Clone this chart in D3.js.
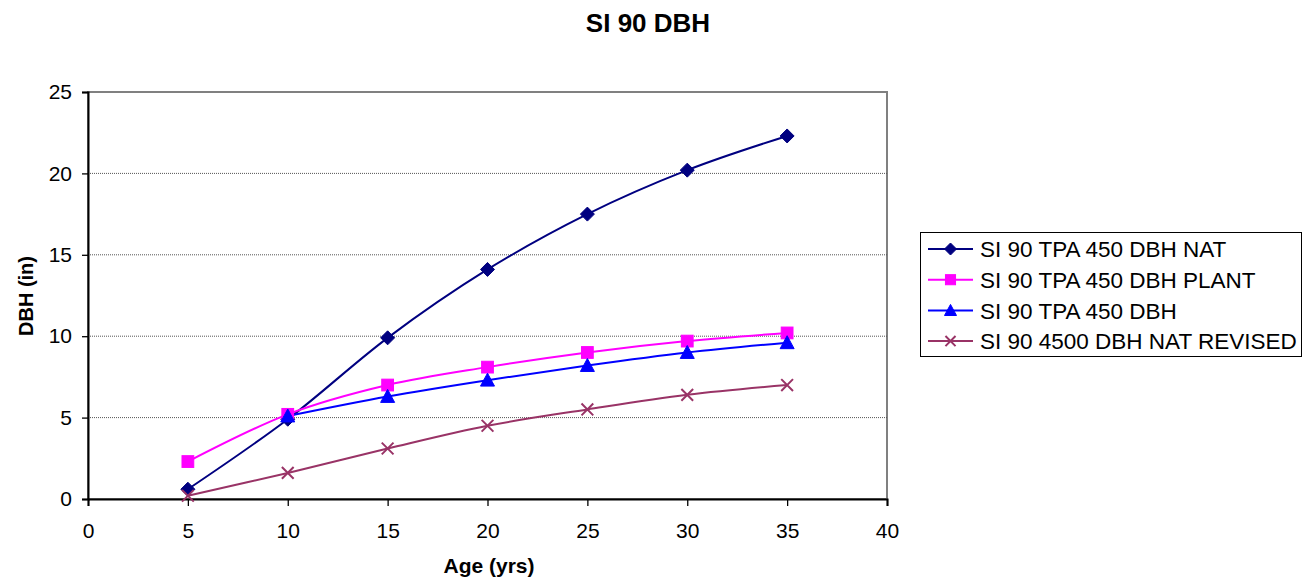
<!DOCTYPE html>
<html>
<head>
<meta charset="utf-8">
<script src="https://cdn.jsdelivr.net/npm/d3@7"></script>
<style>
  html, body { margin: 0; padding: 0; background: #fff; }
  svg { display: block; font-family: "Liberation Sans", Arial, sans-serif; }
</style>
</head>
<body>
<svg id="chart" width="1314" height="586"></svg>
<script>
// Ages (years) and DBH (inches) per series
const ages = [5, 10, 15, 20, 25, 30, 35];
const natValues     = [0.6, 4.9, 9.9, 14.1, 17.5, 20.2, 22.3];
const plantValues   = [2.3, 5.2, 7.0, 8.1, 9.0, 9.7, 10.2];
const dbhValues     = [null, 5.1, 6.3, 7.3, 8.2, 9.0, 9.6];
const revisedValues = [0.2, 1.6, 3.1, 4.5, 5.5, 6.4, 7.0];
const seriesNames = [
  "SI 90 TPA 450 DBH NAT",
  "SI 90 TPA 450 DBH PLANT",
  "SI 90 TPA 450 DBH",
  "SI 90 4500 DBH NAT REVISED"
];
const xTicks = [0, 5, 10, 15, 20, 25, 30, 35, 40];
const yTicks = [0, 5, 10, 15, 20, 25];

const seriesColors = ["#000080", "#FF00FF", "#0000FF", "#993366"];
const seriesShapes = ["diamond", "square", "triangle", "cross"];
const seriesValues = [natValues, plantValues, dbhValues, revisedValues];

const series = seriesNames.map((name, i) => ({
  name,
  color: seriesColors[i],
  shape: seriesShapes[i],
  points: ages.map((a, j) => ({ x: a, y: seriesValues[i][j] })).filter(p => p.y != null)
}));

const svg = d3.select("#chart");
const plot = { left: 88, right: 887, top: 92, bottom: 499 };

const x = d3.scaleLinear().domain([0, 40]).range([plot.left, plot.right]);
const y = d3.scaleLinear().domain([0, 25]).range([plot.bottom, plot.top]);

// Title
svg.append("text")
  .attr("x", 648).attr("y", 32)
  .attr("text-anchor", "middle")
  .style("font-size", "26px").style("font-weight", "bold")
  .text("SI 90 DBH");

// Plot frame (right and top edges)
svg.append("rect")
  .attr("x", plot.left).attr("y", plot.top)
  .attr("width", plot.right - plot.left).attr("height", plot.bottom - plot.top)
  .attr("fill", "none").attr("stroke", "#808080").attr("stroke-width", 2);

// Horizontal gridlines
svg.append("g").selectAll("line")
  .data(yTicks.filter(t => t > 0 && t < 25))
  .join("line")
  .attr("x1", plot.left).attr("x2", plot.right)
  .attr("y1", d => y(d)).attr("y2", d => y(d))
  .attr("stroke", "#555").attr("stroke-width", 1)
  .attr("stroke-dasharray", "1,1");

// Axes
const yAxis = svg.append("g")
  .attr("transform", `translate(${plot.left},0)`)
  .call(d3.axisLeft(y).tickValues(yTicks).tickSize(6).tickPadding(10).tickFormat(d3.format("d")));
const xAxis = svg.append("g")
  .attr("transform", `translate(0,${plot.bottom})`)
  .call(d3.axisBottom(x).tickValues(xTicks).tickSize(7).tickPadding(17).tickFormat(d3.format("d")));

[yAxis, xAxis].forEach(g => {
  g.select(".domain").attr("stroke", "#000").attr("stroke-width", 2);
  g.selectAll(".tick line").attr("stroke", "#000").attr("stroke-width", 1.3);
  g.selectAll(".tick text")
    .attr("fill", "#000")
    .style("font-size", "21px")
    .style("font-family", "'Liberation Sans', Arial, sans-serif");
});
xAxis.selectAll(".tick text").attr("dy", "0.71em");

// Axis titles
svg.append("text")
  .attr("x", 489).attr("y", 573)
  .attr("text-anchor", "middle")
  .style("font-size", "21px").style("font-weight", "bold")
  .text("Age (yrs)");
svg.append("text")
  .attr("transform", "translate(33,296) rotate(-90)")
  .attr("text-anchor", "middle")
  .style("font-size", "20px").style("font-weight", "bold")
  .text("DBH (in)");

// Marker drawing
function drawMarker(sel, shape, color, size) {
  const s = size;
  if (shape === "diamond") {
    sel.append("path")
      .attr("d", `M0,${-s / 2}L${s / 2},0L0,${s / 2}L${-s / 2},0Z`)
      .attr("fill", color).attr("stroke", color).attr("stroke-width", 1);
  } else if (shape === "square") {
    const h = s * 0.42;
    sel.append("rect")
      .attr("x", -h).attr("y", -h).attr("width", 2 * h).attr("height", 2 * h)
      .attr("fill", color).attr("stroke", color).attr("stroke-width", 1);
  } else if (shape === "triangle") {
    const h = s / 2;
    sel.append("path")
      .attr("d", `M0,${-h}L${h},${h * 0.85}L${-h},${h * 0.85}Z`)
      .attr("fill", color).attr("stroke", color).attr("stroke-width", 1);
  } else if (shape === "cross") {
    const h = s * 0.42;
    sel.append("path")
      .attr("d", `M${-h},${-h}L${h},${h}M${-h},${h}L${h},${-h}`)
      .attr("fill", "none").attr("stroke", color).attr("stroke-width", 2);
  }
}

// Smoothed lines and markers
const line = d3.line()
  .x(d => x(d.x)).y(d => y(d.y))
  .curve(d3.curveCatmullRom.alpha(0));

const seriesG = svg.append("g");
series.forEach(s => {
  seriesG.append("path")
    .datum(s.points)
    .attr("d", line)
    .attr("fill", "none")
    .attr("stroke", s.color)
    .attr("stroke-width", 2);
});
series.forEach(s => {
  s.points.forEach(p => {
    const g = seriesG.append("g").attr("transform", `translate(${x(p.x)},${y(p.y)})`);
    drawMarker(g, s.shape, s.color, 14);
  });
});

// Legend
const legend = svg.append("g");
legend.append("rect")
  .attr("x", 920.5).attr("y", 232.5).attr("width", 381).attr("height", 124)
  .attr("fill", "#fff").attr("stroke", "#000").attr("stroke-width", 1);
series.forEach((s, i) => {
  const cy = 249 + i * 30.7;
  const row = legend.append("g");
  row.append("line")
    .attr("x1", 928).attr("x2", 973).attr("y1", cy).attr("y2", cy)
    .attr("stroke", s.color).attr("stroke-width", 2);
  const m = row.append("g").attr("transform", `translate(950.5,${cy})`);
  drawMarker(m, s.shape, s.color, 12);
  row.append("text")
    .attr("x", 980).attr("y", cy)
    .attr("dy", "0.36em")
    .style("font-size", "22.5px")
    .text(s.name);
});
</script>
</body>
</html>
